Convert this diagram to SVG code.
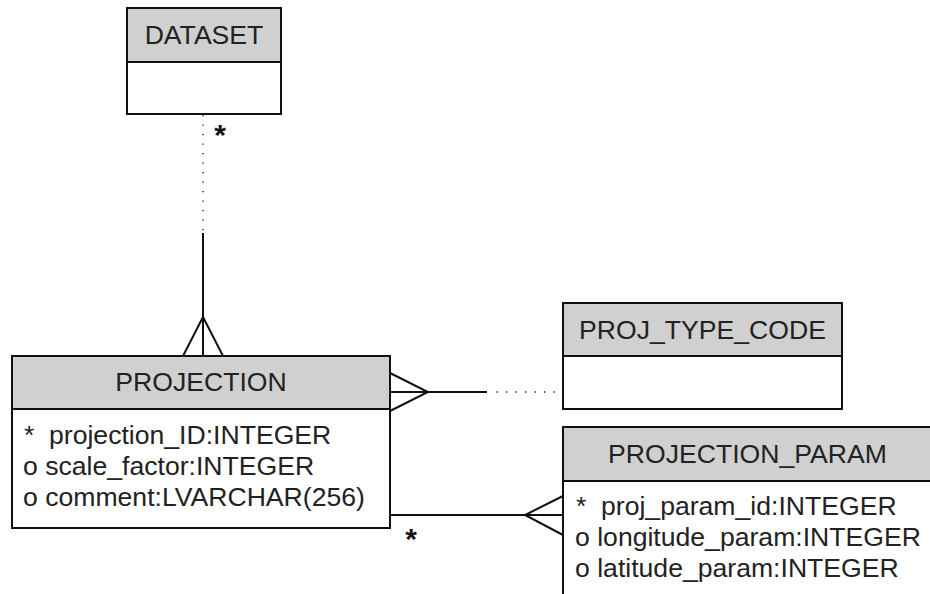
<svg xmlns="http://www.w3.org/2000/svg" width="930" height="594" viewBox="0 0 930 594">
<style>
text{font-family:"Liberation Sans",Arial,sans-serif;font-size:26.6px;fill:#222}
.hd{fill:#d0d0d0;stroke:#111;stroke-width:2}
.bd{fill:#fff;stroke:#111;stroke-width:2}
.t{text-anchor:middle}
.st{text-anchor:middle;font-size:30px;font-weight:bold;fill:#111}
.ln{stroke:#111;stroke-width:2;fill:none}
.dt{stroke:#111;stroke-width:1.3;fill:none;stroke-dasharray:1.3 8.2}
</style>
<rect width="930" height="594" fill="#fff"/>
<g id="connectors">
<line class="dt" x1="203" y1="115" x2="203" y2="233"/>
<line class="ln" x1="203" y1="233" x2="203" y2="356"/>
<polyline class="ln" points="183,356 203,317 223,356"/>
<text class="st" x="220" y="145">*</text>
<line class="ln" x1="390" y1="392" x2="487" y2="392"/>
<polyline class="ln" points="390,373 428,392 390,411"/>
<line class="dt" x1="496.5" y1="392" x2="556" y2="392"/>
<line class="ln" x1="390" y1="515" x2="563" y2="515"/>
<polyline class="ln" points="563,496 525,515 563,535"/>
<text class="st" x="411" y="549">*</text>
</g>
<g id="DATASET">
<rect class="bd" x="127" y="8" width="154" height="106"/>
<rect class="hd" x="127" y="8" width="154" height="54"/>
<text class="t" x="204" y="44">DATASET</text>
</g>
<g id="PROJECTION">
<rect class="bd" x="12" y="356" width="378" height="172"/>
<rect class="hd" x="12" y="356" width="378" height="53"/>
<text class="t" x="201" y="391">PROJECTION</text>
<text x="24" y="444">*<tspan x="49">projection_ID:INTEGER</tspan></text>
<text x="23" y="475">o scale_factor:INTEGER</text>
<text x="23" y="506">o comment:LVARCHAR(256)</text>
</g>
<g id="PROJ_TYPE_CODE">
<rect class="bd" x="563" y="303" width="279" height="106"/>
<rect class="hd" x="563" y="303" width="279" height="53"/>
<text class="t" x="702.5" y="339">PROJ_TYPE_CODE</text>
</g>
<g id="PROJECTION_PARAM">
<rect class="bd" x="563" y="427" width="370" height="180"/>
<rect class="hd" x="563" y="427" width="370" height="54"/>
<text class="t" x="747.5" y="463">PROJECTION_PARAM</text>
<text x="576" y="515">*<tspan x="601">proj_param_id:INTEGER</tspan></text>
<text x="575" y="546">o longitude_param:INTEGER</text>
<text x="575" y="577">o latitude_param:INTEGER</text>
</g>
</svg>
